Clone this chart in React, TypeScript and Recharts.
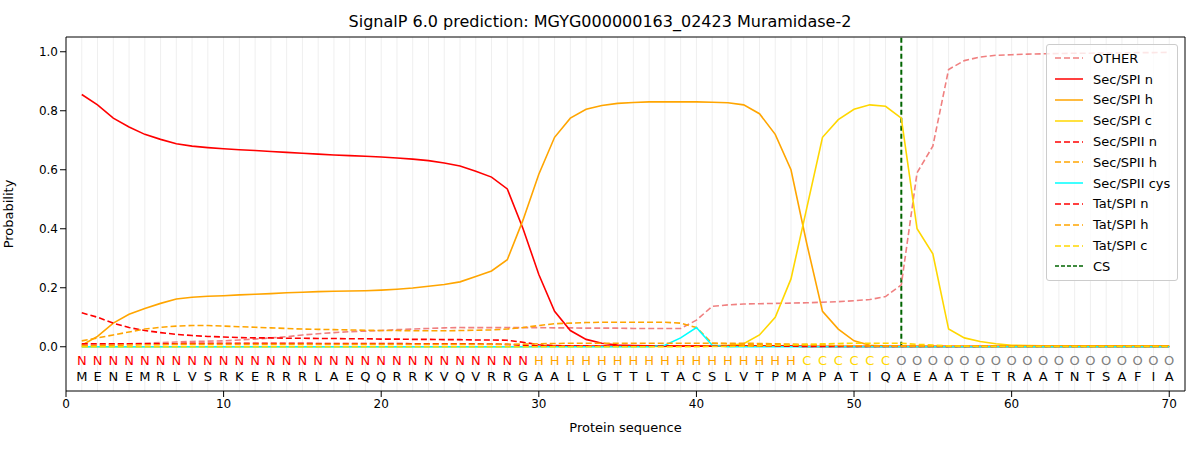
import React from "react";
import { LineChart, Line, XAxis, YAxis, ReferenceLine } from "recharts";

const residues = "MENEMRLVSRKERRRLAEQQRRKVQVRRGAALLGTTLTACSLVTPMAPATIQAEAATETRAATNTSAFIA".split("");
const regions = "NNNNNNNNNNNNNNNNNNNNNNNNNNNNNHHHHHHHHHHHHHHHHHCCCCCCOOOOOOOOOOOOOOOOOO".split("");

const other = [0.005, 0.006, 0.008, 0.01, 0.012, 0.014, 0.016, 0.018, 0.019, 0.02, 0.023, 0.026, 0.03, 0.034, 0.04, 0.044, 0.048, 0.051, 0.053, 0.055, 0.058, 0.06, 0.062, 0.064, 0.065, 0.065, 0.065, 0.065, 0.065, 0.065, 0.064, 0.064, 0.063, 0.063, 0.063, 0.062, 0.062, 0.062, 0.062, 0.09, 0.137, 0.142, 0.145, 0.146, 0.147, 0.148, 0.149, 0.151, 0.153, 0.156, 0.16, 0.17, 0.21, 0.59, 0.68, 0.94, 0.97, 0.982, 0.988, 0.99, 0.992, 0.993, 0.994, 0.995, 0.995, 0.996, 0.996, 0.997, 0.997, 0.998];
const secN = [0.855, 0.82, 0.775, 0.745, 0.72, 0.703, 0.688, 0.68, 0.675, 0.671, 0.668, 0.665, 0.662, 0.659, 0.656, 0.653, 0.65, 0.648, 0.646, 0.643, 0.64, 0.636, 0.631, 0.623, 0.613, 0.595, 0.575, 0.535, 0.4, 0.245, 0.12, 0.055, 0.025, 0.012, 0.006, 0.004, 0.003, 0.003, 0.002, 0.002, 0.002, 0.002, 0.002, 0.002, 0.002, 0.002, 0.001, 0.001, 0.001, 0.001, 0.001, 0.001, 0.001, 0.001, 0.001, 0.001, 0.001, 0.001, 0.001, 0.001, 0.001, 0.001, 0.001, 0.001, 0.001, 0.001, 0.001, 0.001, 0.001, 0.001];
const secH = [0.005, 0.035, 0.08, 0.11, 0.13, 0.147, 0.162, 0.168, 0.171, 0.173, 0.176, 0.178, 0.18, 0.183, 0.185, 0.187, 0.188, 0.189, 0.19, 0.192, 0.195, 0.199, 0.205, 0.211, 0.22, 0.238, 0.257, 0.295, 0.43, 0.585, 0.71, 0.775, 0.805, 0.818, 0.825, 0.828, 0.83, 0.83, 0.83, 0.83, 0.829, 0.827, 0.82, 0.79, 0.72, 0.6, 0.35, 0.12, 0.06, 0.02, 0.005, 0.002, 0.001, 0.001, 0.001, 0.001, 0.001, 0.001, 0.001, 0.001, 0.001, 0.001, 0.001, 0.001, 0.001, 0.001, 0.001, 0.001, 0.001, 0.001];
const secC = [0, 0, 0, 0, 0, 0, 0, 0, 0, 0, 0, 0, 0, 0, 0, 0, 0, 0, 0, 0, 0, 0, 0, 0, 0, 0, 0, 0, 0, 0.001, 0.001, 0.001, 0.001, 0.001, 0.001, 0.001, 0.001, 0.001, 0.002, 0.002, 0.003, 0.005, 0.01, 0.04, 0.1, 0.23, 0.47, 0.71, 0.77, 0.805, 0.82, 0.815, 0.775, 0.4, 0.315, 0.06, 0.03, 0.018, 0.01, 0.005, 0.004, 0.003, 0.003, 0.003, 0.003, 0.003, 0.003, 0.003, 0.003, 0.003];
const spiiN = [0.115, 0.1, 0.08, 0.065, 0.055, 0.048, 0.042, 0.038, 0.035, 0.033, 0.031, 0.03, 0.03, 0.029, 0.029, 0.028, 0.028, 0.027, 0.027, 0.026, 0.026, 0.025, 0.025, 0.024, 0.024, 0.023, 0.023, 0.022, 0.015, 0.007, 0.004, 0.003, 0.003, 0.002, 0.002, 0.002, 0.002, 0.002, 0.002, 0.002, 0.002, 0.002, 0.002, 0.002, 0.002, 0.002, 0.001, 0.001, 0.001, 0.001, 0.001, 0.001, 0.001, 0.001, 0.001, 0.001, 0.001, 0.001, 0.001, 0.001, 0.001, 0.001, 0.001, 0.001, 0.001, 0.001, 0.001, 0.001, 0.001, 0.001];
const spiiH = [0.02, 0.03, 0.04, 0.05, 0.06, 0.066, 0.07, 0.072, 0.072, 0.07, 0.068, 0.066, 0.064, 0.062, 0.06, 0.059, 0.058, 0.057, 0.056, 0.055, 0.055, 0.054, 0.054, 0.054, 0.055, 0.056, 0.057, 0.06, 0.065, 0.072, 0.078, 0.08, 0.082, 0.083, 0.083, 0.083, 0.083, 0.083, 0.08, 0.065, 0.012, 0.01, 0.009, 0.008, 0.007, 0.006, 0.005, 0.004, 0.003, 0.003, 0.002, 0.002, 0.002, 0.002, 0.002, 0.002, 0.002, 0.002, 0.002, 0.002, 0.002, 0.002, 0.002, 0.002, 0.002, 0.002, 0.002, 0.002, 0.002, 0.002];
const spiiCys = [0, 0, 0, 0, 0, 0, 0, 0, 0, 0, 0, 0, 0, 0, 0, 0, 0, 0, 0, 0, 0, 0, 0, 0, 0, 0, 0, 0, 0, 0, 0, 0, 0, 0, 0, 0, 0, 0.005, 0.03, 0.065, 0.005, 0, 0, 0, 0, 0, 0, 0, 0, 0, 0, 0, 0, 0, 0, 0, 0, 0, 0, 0, 0, 0, 0, 0, 0, 0, 0, 0, 0, 0, 0];
const tatN = [0.01, 0.01, 0.01, 0.01, 0.01, 0.01, 0.01, 0.012, 0.012, 0.012, 0.012, 0.012, 0.012, 0.012, 0.012, 0.011, 0.011, 0.011, 0.011, 0.011, 0.011, 0.01, 0.01, 0.01, 0.01, 0.01, 0.009, 0.008, 0.005, 0.003, 0.002, 0.002, 0.002, 0.002, 0.002, 0.002, 0.002, 0.002, 0.002, 0.002, 0.002, 0.002, 0.002, 0.002, 0.002, 0.002, 0.001, 0.001, 0.001, 0.001, 0.001, 0.001, 0.001, 0.001, 0.001, 0.001, 0.001, 0.001, 0.001, 0.001, 0.001, 0.001, 0.001, 0.001, 0.001, 0.001, 0.001, 0.001, 0.001, 0.001];
const tatH = [0.003, 0.004, 0.005, 0.006, 0.007, 0.007, 0.008, 0.008, 0.008, 0.008, 0.008, 0.008, 0.008, 0.008, 0.008, 0.008, 0.008, 0.008, 0.008, 0.008, 0.008, 0.008, 0.008, 0.008, 0.008, 0.008, 0.008, 0.008, 0.009, 0.01, 0.011, 0.012, 0.012, 0.012, 0.012, 0.012, 0.012, 0.012, 0.012, 0.012, 0.012, 0.012, 0.012, 0.011, 0.01, 0.009, 0.008, 0.006, 0.004, 0.003, 0.002, 0.002, 0.002, 0.002, 0.002, 0.002, 0.002, 0.002, 0.002, 0.002, 0.002, 0.002, 0.002, 0.002, 0.002, 0.002, 0.002, 0.002, 0.002, 0.002];
const tatC = [0, 0, 0, 0, 0, 0, 0, 0, 0, 0, 0, 0, 0, 0, 0, 0, 0, 0, 0, 0, 0, 0, 0, 0, 0, 0, 0, 0, 0, 0, 0, 0, 0, 0, 0, 0, 0, 0, 0, 0, 0.001, 0.001, 0.002, 0.003, 0.004, 0.006, 0.008, 0.01, 0.011, 0.012, 0.012, 0.012, 0.012, 0.008, 0.006, 0.003, 0.002, 0.001, 0.001, 0.001, 0.001, 0.001, 0.001, 0.001, 0.001, 0.001, 0.001, 0.001, 0.001, 0.001];
const csPos = 53;

const regionColor: Record<string, string> = { N: "#ff0000", H: "#ffa500", C: "#ffd700", O: "#808080" };

const series = [
  { key: "other", name: "OTHER", color: "#f08080", dash: "6 3", values: other },
  { key: "secN", name: "Sec/SPI n", color: "#ff0000", dash: undefined, values: secN },
  { key: "secH", name: "Sec/SPI h", color: "#ffa500", dash: undefined, values: secH },
  { key: "secC", name: "Sec/SPI c", color: "#ffd700", dash: undefined, values: secC },
  { key: "spiiN", name: "Sec/SPII n", color: "#ff0000", dash: "6 3", values: spiiN },
  { key: "spiiH", name: "Sec/SPII h", color: "#ffa500", dash: "6 3", values: spiiH },
  { key: "spiiCys", name: "Sec/SPII cys", color: "#00ffff", dash: undefined, values: spiiCys },
  { key: "tatN", name: "Tat/SPI n", color: "#ff0000", dash: "6 3", values: tatN },
  { key: "tatH", name: "Tat/SPI h", color: "#ffa500", dash: "6 3", values: tatH },
  { key: "tatC", name: "Tat/SPI c", color: "#ffd700", dash: "6 3", values: tatC },
];

const data = residues.map((r, i) => {
  const row: Record<string, any> = { pos: i + 1, res: r, reg: regions[i], resY: -0.1, regY: -0.048 };
  series.forEach((s) => (row[s.key] = s.values[i]));
  return row;
});

const font = "DejaVu Sans, sans-serif";

function LegendBox() {
  const items = [...series.map((s) => ({ name: s.name, color: s.color, dash: s.dash })), { name: "CS", color: "#006400", dash: "4 2" }];
  return (
    <div style={{ position: "absolute", left: 1046, top: 44, width: 130, border: "1px solid #ccc", borderRadius: 3, background: "rgba(255,255,255,0.8)", padding: "3px 0", fontFamily: font, fontSize: 13 }}>
      {items.map((it) => (
        <div key={it.name} style={{ display: "flex", alignItems: "center", height: 20.8 }}>
          <svg width={40} height={10} style={{ marginLeft: 6 }}>
            <line x1={2} y1={5} x2={30} y2={5} stroke={it.color} strokeWidth={1.5} strokeDasharray={it.dash} />
          </svg>
          <span>{it.name}</span>
        </div>
      ))}
    </div>
  );
}

export default function App() {
  const gridX = residues.map((_, i) => i + 1);
  return (
    <div style={{ position: "absolute", left: 0, top: 0, width: 1200, height: 450, background: "#fff", fontFamily: font }}>
      <div style={{ position: "absolute", top: 12, width: 1200, textAlign: "center", fontSize: 16 }}>
        SignalP 6.0 prediction: MGYG000000163_02423 Muramidase-2
      </div>
      <LineChart width={1200} height={450} data={data} margin={{ top: 37, right: 15, left: 0, bottom: 0 }}>
        {gridX.map((x) => (
          <ReferenceLine key={x} x={x} stroke="#efefef" strokeWidth={1} />
        ))}
        <XAxis type="number" dataKey="pos" domain={[0, 71]} ticks={[0, 10, 20, 30, 40, 50, 60, 70]} height={59} tick={{ fill: "#000", fontSize: 12 }} tickLine={{ stroke: "#000" }} axisLine={{ stroke: "#000" }}
          label={{ value: "Protein sequence", position: "insideBottom", offset: 18, fill: "#000", fontSize: 13 }} />
        <YAxis type="number" domain={[-0.15, 1.05]} ticks={[0, 0.2, 0.4, 0.6, 0.8, 1.0]} width={66} tickFormatter={(v) => v.toFixed(1)} tick={{ fill: "#000", fontSize: 12 }} tickLine={{ stroke: "#000" }} axisLine={{ stroke: "#000" }}
          label={{ value: "Probability", angle: -90, position: "insideLeft", offset: 8, fill: "#000", fontSize: 13, style: { textAnchor: "middle" } }} />
        <ReferenceLine segment={[{ x: csPos, y: 0 }, { x: csPos, y: 1.05 }]} stroke="#006400" strokeWidth={2} strokeDasharray="5 3" />
        <ReferenceLine y={1.05} stroke="#000" />
        <ReferenceLine x={71} stroke="#000" />
        {series.map((s) => (
          <Line key={s.key} dataKey={s.key} stroke={s.color} strokeDasharray={s.dash} strokeWidth={1.6} dot={false} isAnimationActive={false} />
        ))}
        <Line dataKey="regY" stroke="none" isAnimationActive={false} activeDot={false}
          dot={(p: any) => (
            <text key={"g" + p.index} x={p.cx} y={p.cy} textAnchor="middle" dominantBaseline="central" fontSize={13} fill={regionColor[p.payload.reg]}>{p.payload.reg}</text>
          )} />
        <Line dataKey="resY" stroke="none" isAnimationActive={false} activeDot={false}
          dot={(p: any) => (
            <text key={"r" + p.index} x={p.cx} y={p.cy} textAnchor="middle" dominantBaseline="central" fontSize={13} fill="#000">{p.payload.res}</text>
          )} />
      </LineChart>
      <LegendBox />
    </div>
  );
}
